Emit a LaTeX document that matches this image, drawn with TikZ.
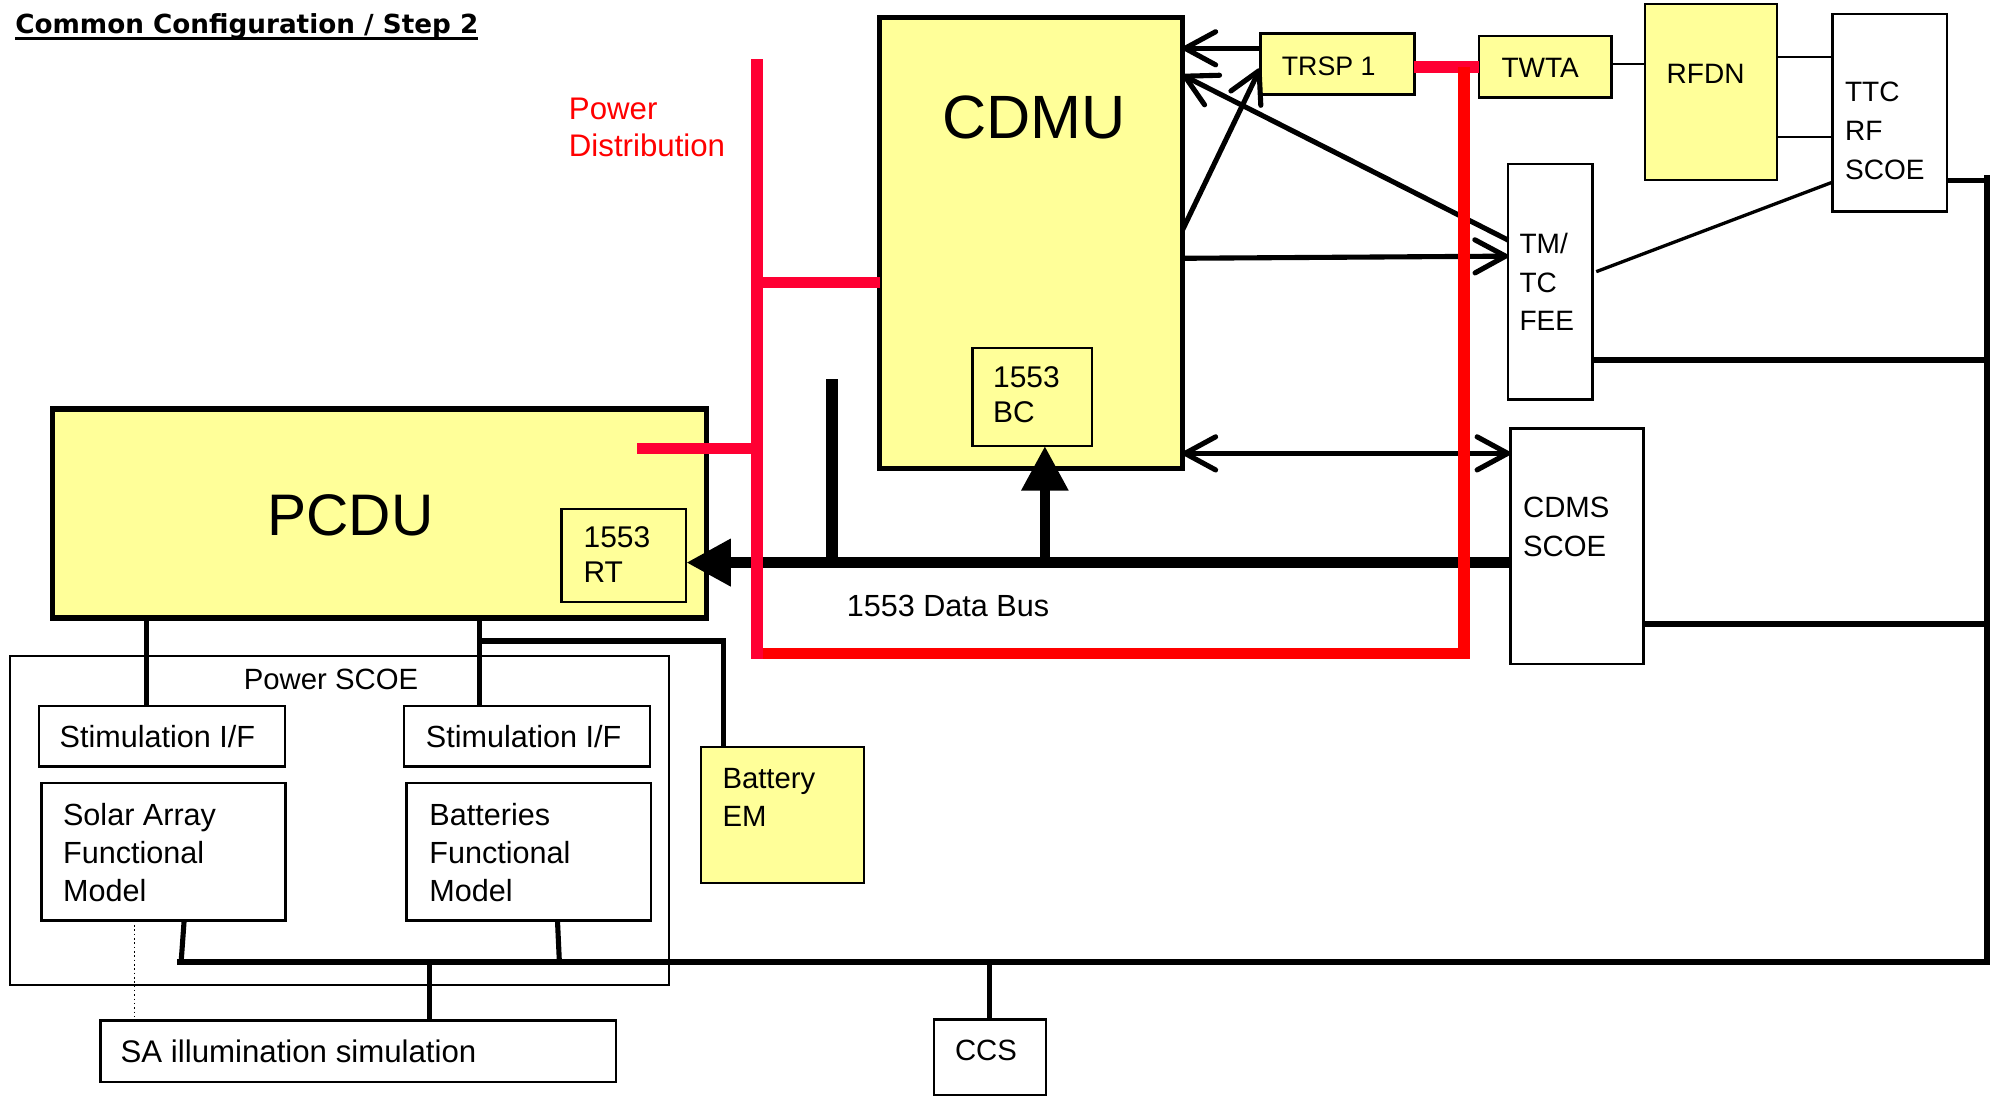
\documentclass[tikz,border=0pt]{standalone}
\usepackage{fontspec}
\setmainfont{Liberation Sans}
\newfontfamily\titlefont{DejaVu Sans}
\usetikzlibrary{arrows.meta}
\definecolor{boxyellow}{RGB}{255,255,153}
\definecolor{redA}{RGB}{255,0,51}
\definecolor{redB}{RGB}{255,0,0}
\tikzset{
  box/.style={draw, rectangle, inner sep=0pt, outer sep=0pt, line width=2pt, anchor=north west},
  ybox/.style={box, fill=boxyellow},
  txt/.style={anchor=base west, inner sep=0pt, outer sep=0pt, align=left, font=\fontsize{24}{30}\selectfont},
  capt/.style={txt, font=\fontsize{22}{30.3}\selectfont},
  wire/.style={line width=4pt},
  thinwire/.style={line width=1.8pt},
  redwire/.style={line width=9pt, redA},
  redwireB/.style={line width=9pt, redB},
  busline/.style={line width=9pt},
  arr/.style={line width=4pt, -{Straight Barb[round, length=24pt, width=26pt]}},
  dblarr/.style={line width=4pt, {Straight Barb[round, length=24pt, width=26pt]}-{Straight Barb[round, length=24pt, width=26pt]}},
  fatarr/.style={-{Triangle[length=35pt, width=35pt]}}
}
\begin{document}
\begin{tikzpicture}[x=1pt,y=-1pt]
\fill[white] (0,0) rectangle (1568,860);
\useasboundingbox (0,0) rectangle (1568,860);

% ---------- boxes ----------
\node[ybox, line width=4pt, minimum width=237.5pt, minimum height=354.5pt] (cdmu) at (690.5,13.5) {};
\node[ybox, minimum width=94pt, minimum height=77pt] (bc) at (763,273) {};
\node[ybox, line width=4pt, minimum width=513pt, minimum height=164pt] (pcdu) at (41.5,321) {};
\node[ybox, minimum width=98pt, minimum height=73pt] (rt) at (440.5,399.5) {};
\node[ybox, minimum width=121pt, minimum height=47.5pt] (trsp) at (989,26.5) {};
\node[ybox, minimum width=104pt, minimum height=48.1pt] (twta) at (1160.6,28.3) {};
\node[ybox, minimum width=103.5pt, minimum height=138.2pt] (rfdn) at (1291,3.1) {};
\node[box, minimum width=89.8pt, minimum height=154.8pt] (ttc) at (1438,11) {};
\node[box, minimum width=66.2pt, minimum height=184.7pt] (fee) at (1183.5,128.7) {};
\node[box, minimum width=104.4pt, minimum height=184.9pt] (cdms) at (1185.2,336.2) {};
\node[box, line width=1.6pt, minimum width=516.6pt, minimum height=258pt] (pscoe) at (8.2,515) {};
\node[box, minimum width=193pt, minimum height=47.7pt] (stim1) at (30.5,554) {};
\node[box, minimum width=193pt, minimum height=47.7pt] (stim2) at (317,554) {};
\node[box, minimum width=191.5pt, minimum height=107.9pt] (solar) at (32.5,614.6) {};
\node[box, minimum width=191.8pt, minimum height=107.9pt] (batt) at (319.2,614.6) {};
\node[box, minimum width=404.7pt, minimum height=48pt] (sa) at (78.7,801) {};
\node[box, minimum width=88pt, minimum height=59.5pt] (ccs) at (733,800) {};
\node[ybox, line width=1.6pt, minimum width=127.8pt, minimum height=107.2pt] (bem) at (550.5,586) {};

% ---------- texts (multi-line: position = baseline of last line) ----------
\node[txt, font=\fontsize{20.6}{24}\titlefont\bfseries] (title) at (12,26.5) {Common Configuration / Step 2};
\draw[line width=2.4pt] ([yshift=-4pt]title.base west) -- ([yshift=-4pt]title.base east);
\node[txt, anchor=base, font=\fontsize{48}{50}\selectfont] (cdmut) at (811.5,109) {CDMU};
\node[txt, anchor=base, font=\fontsize{46}{50}\selectfont] (pcdut) at (275,420) {PCDU};
\node[txt, font=\fontsize{23.5}{27.5}\selectfont] (rtt) at (458,457) {1553\\RT};
\node[txt, font=\fontsize{23.5}{27.5}\selectfont] (bct) at (779.4,331.5) {1553\\BC};
\node[txt] (bust) at (664.6,484) {1553 Data Bus};
\node[txt, redB, font=\fontsize{24.5}{29}\selectfont] (pdt) at (446.5,123) {Power\\Distribution};
\node[txt, font=\fontsize{23}{30}\selectfont] (pscoet) at (191.4,540.8) {Power SCOE};
\node[txt] (stim1t) at (46.8,586.8) {Stimulation I/F};
\node[txt] (stim2t) at (334.2,586.8) {Stimulation I/F};
\node[txt] (solart) at (49.5,707.7) {Solar Array\\Functional\\Model};
\node[txt] (battt) at (337,707.7) {Batteries\\Functional\\Model};
\node[txt, font=\fontsize{24.5}{30}\selectfont] (sat) at (94.7,834) {SA illumination simulation};
\node[txt, font=\fontsize{23}{30}\selectfont] (bemt) at (567,648.8) {Battery\\EM};
\node[capt, font=\fontsize{23}{30}\selectfont] (ccst) at (749.5,832.4) {CCS};
\node[capt, font=\fontsize{21}{30}\selectfont] (trspt) at (1006,59.3) {TRSP 1};
\node[capt] (twtat) at (1178.4,61) {TWTA};
\node[capt] (rfdnt) at (1308,65.4) {RFDN};
\node[capt] (ttct) at (1448,140.5) {TTC\\RF\\SCOE};
\node[capt] (feet) at (1192.5,259.5) {TM/\\TC\\FEE};
\node[capt, font=\fontsize{23}{30.4}\selectfont] (cdmst) at (1195.3,436.4) {CDMS\\SCOE};

% ---------- junction coordinates ----------
\coordinate (jb) at (376.5,503);
\coordinate (busL) at (139,755);
\coordinate (busR) at (1559.5,755);
\coordinate (vTop) at (1559.5,137);

% ---------- black connectors ----------
\draw[wire] (stim1.north -| 115,0) -- (pcdu.south -| 115,0);
\draw[wire] (stim2.north -| 376.5,0) -- (pcdu.south -| 376.5,0);
\draw[wire] (jb) -- (567.5,503) -- (bem.north -| 567.5,0);
\draw[wire] (solar.south -| 144.5,0) -- (142,757);
\draw[wire] (batt.south -| 437.5,0) -- (439,755);
\draw[line width=4.5pt] (busL) -- (busR) -- (vTop);
\draw[wire] (sa.north -| 337,0) -- (337,755);
\draw[wire] (ccs.north -| 776.2,0) -- (776.2,755);
\draw[line width=1.2pt, dash pattern=on 1.2pt off 2.2pt] (solar.south -| 105.7,0) -- (sa.north -| 105.7,0);

\draw[wire] (ttc.east |- 0,142) -- (1559.5,142);
\draw[wire] (fee.east |- 0,282.5) -- (1559.5,282.5);
\draw[wire] (cdms.east |- 0,489.7) -- (1559.5,489.7);
\draw[thinwire] (twta.east |- 0,50.2) -- (rfdn.west |- 0,50.2);
\draw[thinwire] (rfdn.east |- 0,44.5) -- (ttc.west |- 0,44.5);
\draw[thinwire] (rfdn.east |- 0,107.3) -- (ttc.west |- 0,107.3);
\draw[line width=2.6pt] (1252.7,213.2) -- (ttc.west |- 0,143);

\draw[arr] (trsp.west |- 0,37.9) -- (cdmu.east |- 0,37.9);
\draw[arr] (cdmu.east |- 0,180.5) -- (trsp.west |- 0,53.6);
\draw[arr] (fee.west |- 0,188.4) -- (cdmu.east |- 0,58.9);
\draw[arr] (cdmu.east |- 0,202.7) -- (fee.west |- 0,201);
\draw[dblarr] (cdmu.east |- 0,355.8) -- (cdms.west |- 0,355.8);

% 1553 bus
\draw[busline] (653,297.5) -- (653,441.5);
\draw[busline, fatarr] (cdms.west |- 0,441.5) -- (rt.east |- 0,441.5);
\draw[line width=8pt, fatarr] (820,441.5) -- (bc.south -| 820,0);

% ---------- red power lines ----------
\draw[redwire] (500,352) -- (594,352);
\draw[redwire] (594,221.7) -- (cdmu.west |- 0,221.7);
\draw[redwire] (trsp.east |- 0,52.4) -- (twta.west |- 0,52.4);
\draw[redwireB] (594,513) -- (1149,513) -- (1149,52.4);
\draw[redwire] (594,46.6) -- (594,517);
\end{tikzpicture}
\end{document}
